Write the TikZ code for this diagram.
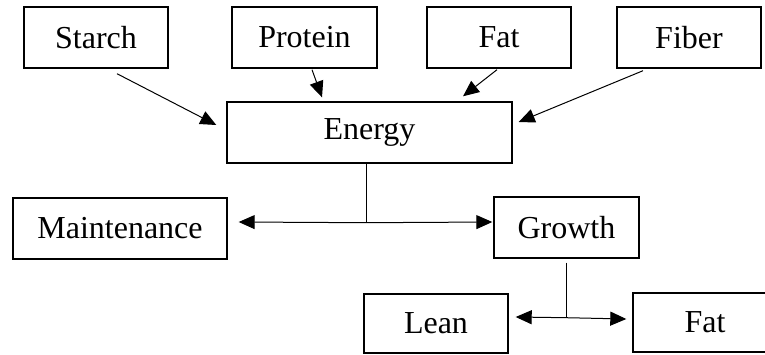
\documentclass[tikz,border=0pt]{standalone}
\usepackage{fontspec}
\setmainfont{Liberation Serif}
\usetikzlibrary{arrows.meta,calc}
\tikzset{
  box/.style={draw, line width=1.4pt, minimum height=61pt, inner sep=0pt, font=\fontsize{32}{36}\selectfont, anchor=center},
  conn/.style={line width=1pt},
  arr/.style={conn, -{Triangle[length=16pt,width=14pt]}},
  biarr/.style={conn, {Triangle[length=16pt,width=14pt]}-{Triangle[length=16pt,width=14pt]}}
}
\begin{document}
\begin{tikzpicture}[x=1pt,y=-1pt]
\useasboundingbox (0,0) rectangle (765,354);
\clip (0,0) rectangle (765,354);
\node[box, minimum width=144pt] (starch) at (96,37.5) {Starch};
\node[box, minimum width=145pt] (protein) at (304.5,37.5) {Protein};
\node[box, minimum width=144pt] (fattop) at (499,37.5) {Fat};
\node[box, minimum width=144pt] (fiber) at (689,37.5) {Fiber};
\node[box, minimum width=285pt] (energy) at (369.5,132.5) {Energy};
\node[box, minimum width=214pt] (maint) at (120,228.5) {Maintenance};
\node[box, minimum width=145pt] (growth) at (566.5,227.5) {Growth};
\node[box, minimum width=144pt, minimum height=59pt] (lean) at (436,323.5) {Lean};
\node[box, minimum width=144pt, minimum height=59pt] (fatb) at (705,322.5) {Fat};

\draw[arr] ($(starch.south)+(21,5)$) -- ($(energy.west)+(-10,-7.5)$);
\draw[arr] ($(protein.south)+(7.5,1)$) -- ($(energy.north)+(-47.5,-4)$);
\draw[arr] ($(fattop.south)+(-2,1)$) -- ($(energy.north)+(93.5,-5)$);
\draw[arr] ($(fiber.south)+(-46,2)$) -- ($(energy.east)+(6,-10.5)$);

\coordinate (j1) at ($(energy.south)+(-3.5,59)$);
\draw[conn] ($(energy.south)+(-3.5,0)$) -- (j1);
\draw[biarr] ($(maint.east)+(11,-6.5)$) -- (j1) -- ($(growth.west)+(-1,-5.5)$);

\coordinate (j2) at ($(growth.south)+(-0.5,59)$);
\draw[conn] ($(growth.south)+(-0.5,4)$) -- (j2);
\draw[biarr] ($(lean.east)+(7,-6.5)$) -- (j2) -- ($(fatb.west)+(-6,-3.5)$);
\end{tikzpicture}
\end{document}
